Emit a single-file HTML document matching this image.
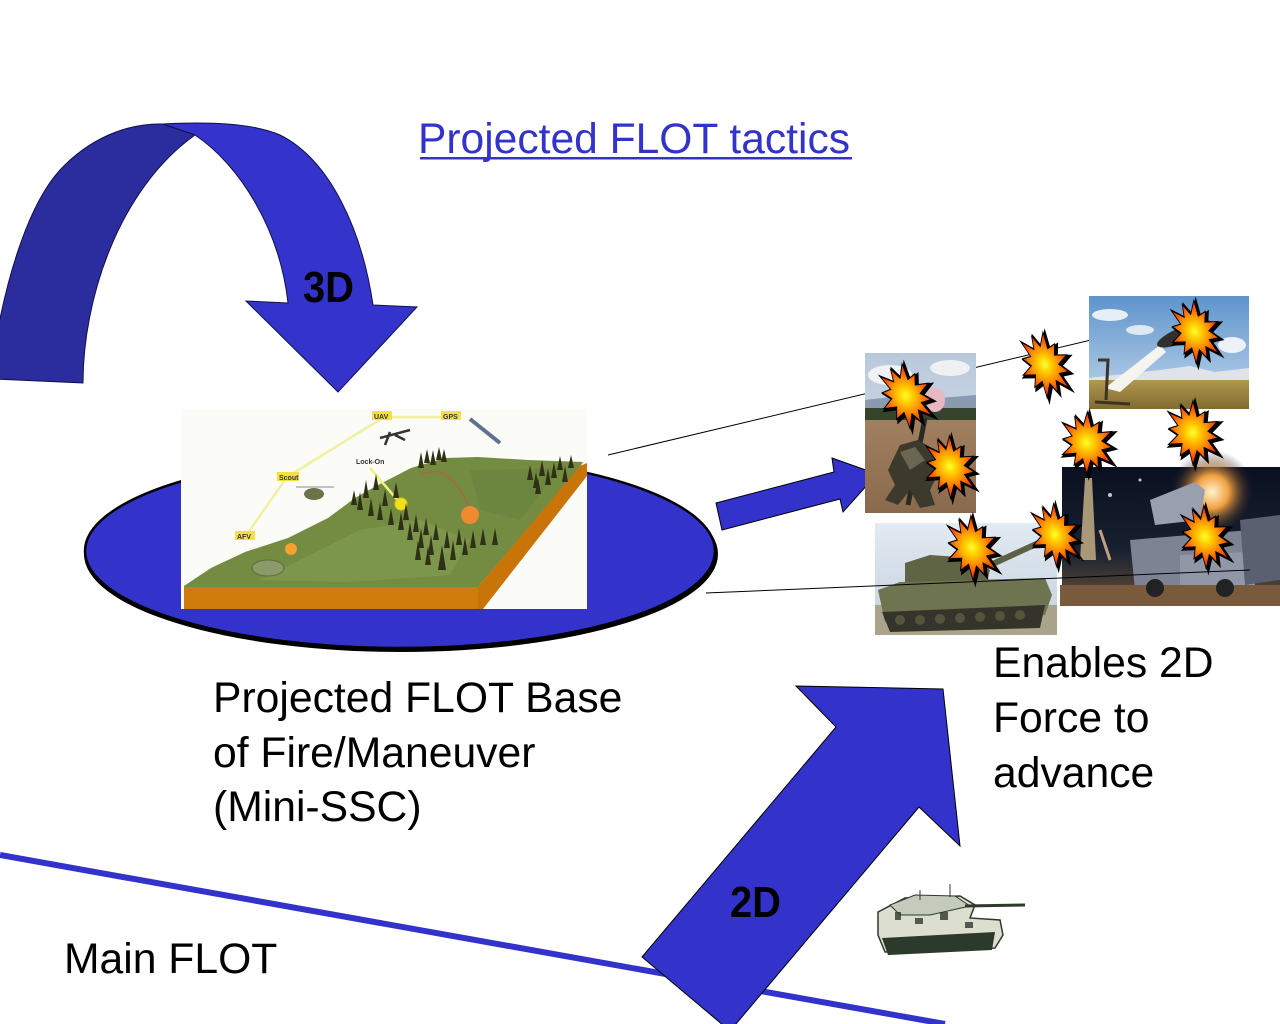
<!DOCTYPE html>
<html><head><meta charset="utf-8"><style>
html,body{margin:0;padding:0;background:#fff;}
svg{display:block;}
text{font-family:"Liberation Sans",Arial,sans-serif;}
</style></head><body>
<svg width="1280" height="1024" viewBox="0 0 1280 1024" xmlns="http://www.w3.org/2000/svg">
<defs>
<radialGradient id="boom" cx="0.5" cy="0.5" r="0.5">
<stop offset="0" stop-color="#ffff30"/><stop offset="0.25" stop-color="#ffd000"/>
<stop offset="0.6" stop-color="#ff8800"/><stop offset="1" stop-color="#ff2a00"/></radialGradient>
<radialGradient id="glow" cx="0.5" cy="0.5" r="0.5">
<stop offset="0" stop-color="#fff4d0"/><stop offset="0.4" stop-color="#f0a040"/><stop offset="1" stop-color="#1a1420" stop-opacity="0"/></radialGradient>
<linearGradient id="sky1" x1="0" y1="0" x2="0" y2="1"><stop offset="0" stop-color="#b8c8dc"/><stop offset="1" stop-color="#e2e6ea"/></linearGradient>
<linearGradient id="field1" x1="0" y1="0" x2="0" y2="1"><stop offset="0" stop-color="#a08060"/><stop offset="1" stop-color="#8a6a4c"/></linearGradient>
<linearGradient id="sky2" x1="0" y1="0" x2="0" y2="1"><stop offset="0" stop-color="#5e94cc"/><stop offset="1" stop-color="#c4d8ec"/></linearGradient>
<linearGradient id="field2" x1="0" y1="0" x2="0" y2="1"><stop offset="0" stop-color="#b09850"/><stop offset="1" stop-color="#806a30"/></linearGradient>
<linearGradient id="sky3" x1="0" y1="0" x2="0" y2="1"><stop offset="0" stop-color="#e2eaf2"/><stop offset="1" stop-color="#c4d0dc"/></linearGradient>
<linearGradient id="dark" x1="0" y1="0" x2="0" y2="1"><stop offset="0" stop-color="#0a1020"/><stop offset="0.6" stop-color="#182030"/><stop offset="1" stop-color="#6a5038"/></linearGradient>
<polygon id="star" points="30,0 15.9,4.3 23.4,13.5 11.7,11.7 15,26 4.3,15.9 0,25.5 -4.3,15.9 -15,26 -11.7,11.7 -23.4,13.5 -15.9,4.3 -30,0 -15.9,-4.3 -22.1,-12.8 -11.7,-11.7 -15,-26 -4.3,-15.9 0,-27 4.3,-15.9 15,-26 11.7,-11.7 22.1,-12.8 15.9,-4.3"/>
<g id="bm">
<use href="#star" fill="#000" stroke="#000" stroke-width="3" transform="translate(1.5,2)"/>
<use href="#star" fill="url(#boom)" stroke="#000" stroke-width="1"/>
</g>
</defs>

<!-- Title -->
<text x="418" y="153" font-size="42.67" fill="#3333cc" textLength="432" lengthAdjust="spacingAndGlyphs">Projected FLOT tactics</text>
<rect x="420" y="157" width="432" height="2.5" fill="#3333cc"/>

<!-- Curved 3D arrow -->
<path d="M -5,379 L 83,383 C 83,300 118,190 195,135 L 163,124 C 125,123 88,140 60,170 C 30,203 8,270 -5,345 Z" fill="#2b2c9e" stroke="#10104a" stroke-width="1"/>
<path d="M 163,124 C 200,122 250,122 280,135 C 330,160 362,230 373,305 L 417,307 L 338,392 L 246,301 L 288,303 C 280,230 240,165 195,135 Z" fill="#3434cc" stroke="#10104a" stroke-width="1"/>
<text x="303" y="302" font-size="44" font-weight="bold" fill="#000" textLength="51" lengthAdjust="spacingAndGlyphs">3D</text>

<!-- Ellipse base -->
<ellipse cx="401" cy="554" rx="317" ry="98" fill="#000"/>
<ellipse cx="400" cy="551" rx="315" ry="97" fill="#3333cc" stroke="#000" stroke-width="2.5"/>

<!-- Terrain picture -->
<rect x="181" y="409" width="406" height="200" fill="#fbfbf8"/>
<polygon points="184,586 211,568 245,552 288,538 328,518 355,498 378,485 411,468 445,458 478,457 528,460 583,462 580,467 478,587 184,587" fill="#738c42"/>
<polygon points="300,560 360,530 420,520 470,540 450,575 350,582 260,580" fill="#7e9a4e" opacity="0.8"/>
<polygon points="470,470 560,468 520,520 480,510" fill="#6a8440" opacity="0.8"/>
<polygon points="184,587 478,587 481,609 184,609" fill="#d07c0c"/>
<polygon points="478,587 580,466 587,463 587,476 483,609 478,609" fill="#c87408"/>
<polyline points="245,537 287,477 384,417 452,417" fill="none" stroke="#f0f0a0" stroke-width="2.5"/>
<line x1="370" y1="468" x2="400" y2="503" stroke="#f0f080" stroke-width="2.5"/>
<rect x="235" y="531" width="20" height="9" fill="#f4e040"/><text x="237" y="539" font-size="7" font-weight="bold" fill="#333">AFV</text>
<rect x="277" y="472" width="22" height="9" fill="#f4e040"/><text x="279" y="480" font-size="7" font-weight="bold" fill="#333">Scout</text>
<rect x="372" y="411" width="20" height="9" fill="#f4e040"/><text x="374" y="419" font-size="7" font-weight="bold" fill="#333">UAV</text>
<rect x="441" y="411" width="20" height="9" fill="#f4e040"/><text x="443" y="419" font-size="7" font-weight="bold" fill="#333">GPS</text>
<text x="356" y="464" font-size="7" font-weight="bold" fill="#333">Lock-On</text>
<circle cx="401" cy="504" r="6" fill="#f0e020" stroke="#e0d000"/>
<path d="M 420,475 Q 450,460 470,510" fill="none" stroke="#b86040" stroke-width="1.2"/>
<path d="M 380,438 L 410,430 M 390,432 L 385,445 M 395,435 L 405,440" stroke="#333" stroke-width="2.5"/>
<line x1="470" y1="419" x2="500" y2="443" stroke="#607090" stroke-width="4"/>
<ellipse cx="314" cy="494" rx="10" ry="6" fill="#6a7448"/>
<line x1="296" y1="487" x2="334" y2="487" stroke="#888" stroke-width="1"/>
<circle cx="470" cy="515" r="9" fill="#f08a30"/>
<circle cx="291" cy="549" r="6" fill="#f5a030"/>
<ellipse cx="268" cy="568" rx="16" ry="8" fill="#8a9a68" stroke="#5a6a40"/>
<g fill="#2f3016">
<polygon points="351,505 354,490 357,505"/><polygon points="357,510 360,492 363,510"/><polygon points="363,498 366,480 369,498"/><polygon points="368,516 371,498 374,516"/><polygon points="373,490 376,474 379,490"/><polygon points="377,520 380,502 383,520"/><polygon points="382,506 385,489 388,506"/><polygon points="388,525 391,508 394,525"/><polygon points="393,498 396,482 399,498"/><polygon points="398,530 401,512 404,530"/><polygon points="403,520 406,503 409,520"/><polygon points="407,540 410,522 413,540"/>
<polygon points="413,532 416,514 419,532"/><polygon points="418,548 421,528 424,548"/><polygon points="423,535 426,518 429,535"/><polygon points="428,555 431,535 434,555"/><polygon points="433,540 436,523 439,540"/><polygon points="438,570 442,545 446,570"/><polygon points="444,548 447,530 450,548"/><polygon points="450,560 453,540 456,560"/><polygon points="456,545 459,528 462,545"/><polygon points="462,555 465,537 468,555"/><polygon points="470,548 473,530 476,548"/><polygon points="480,545 483,528 486,545"/><polygon points="492,545 495,528 498,545"/><polygon points="415,560 418,540 421,560"/><polygon points="425,565 428,546 431,565"/>
<polygon points="418,468 421,452 424,468"/><polygon points="424,463 427,449 430,463"/><polygon points="430,465 433,450 436,465"/><polygon points="436,460 439,447 442,460"/><polygon points="441,462 444,449 447,462"/>
<polygon points="527,480 530,465 533,480"/><polygon points="533,488 536,472 539,488"/><polygon points="539,476 542,460 545,476"/><polygon points="545,485 548,468 551,485"/><polygon points="551,478 554,462 557,478"/><polygon points="557,470 560,456 563,470"/><polygon points="562,482 565,466 568,482"/><polygon points="568,468 571,455 574,468"/><polygon points="535,494 538,478 541,494"/>
</g>

<line x1="608" y1="455" x2="1175" y2="320" stroke="#000" stroke-width="1"/>

<polygon points="716,503 834,472 832,458 877,474 843,512 840,499 722,530" fill="#3333cc" stroke="#000" stroke-width="1"/>

<!-- Soldier photo -->
<g>
<rect x="865" y="353" width="111" height="160" fill="url(#sky1)"/>
<ellipse cx="890" cy="375" rx="22" ry="10" fill="#f0f2f4"/>
<ellipse cx="950" cy="368" rx="20" ry="8" fill="#eef0f2"/>
<polygon points="865,400 900,396 940,398 976,395 976,412 865,412" fill="#8a9ab0"/>
<rect x="865" y="408" width="111" height="12" fill="#36442e"/>
<rect x="865" y="420" width="111" height="93" fill="url(#field1)"/>
<ellipse cx="935" cy="400" rx="10" ry="12" fill="#e6b8c4"/>
<line x1="908" y1="505" x2="925" y2="418" stroke="#2a2a22" stroke-width="5"/>
<polygon points="888,470 900,445 918,440 935,450 940,470 930,490 935,505 920,508 910,490 898,505 885,500 895,485" fill="#3c3a2c"/>
<polygon points="900,452 915,447 925,460 910,470" fill="#6a6650"/>
</g>

<!-- Missile photo -->
<g>
<rect x="1089" y="296" width="160" height="113" fill="url(#sky2)"/>
<ellipse cx="1110" cy="315" rx="18" ry="6" fill="#e8eef6"/>
<ellipse cx="1232" cy="345" rx="14" ry="8" fill="#eef2f8"/>
<ellipse cx="1140" cy="330" rx="14" ry="5" fill="#dfe8f2"/>
<polygon points="1089,378 1160,370 1190,366 1215,372 1249,368 1249,382 1089,384" fill="#e0e4ea"/>
<rect x="1089" y="380" width="160" height="29" fill="url(#field2)"/>
<polygon points="1105,388 1160,345 1166,352 1120,392" fill="#f6f4ee"/>
<ellipse cx="1185" cy="334" rx="30" ry="8" fill="#303030" transform="rotate(-22 1185 334)"/>
<path d="M 1098,360 L 1108,360 L 1106,400 M 1095,402 L 1130,404" stroke="#3a3428" stroke-width="3" fill="none"/>
</g>

<!-- Dark launcher photo -->
<g>
<rect x="1062" y="467" width="218" height="139" fill="url(#dark)"/>
<circle cx="1212" cy="492" r="42" fill="url(#glow)"/>
<polygon points="1080,560 1085,478 1092,478 1096,560" fill="#a89878"/>
<polygon points="1150,500 1195,482 1205,490 1200,520 1155,525" fill="#98a0b0"/>
<polygon points="1130,540 1250,530 1255,585 1135,590" fill="#7c8494"/>
<polygon points="1180,555 1250,552 1255,585 1180,588" fill="#9098a8"/>
<rect x="1060" y="585" width="220" height="21" fill="#7a5a3c"/>
<circle cx="1155" cy="588" r="9" fill="#222"/><circle cx="1225" cy="588" r="9" fill="#222"/>
<polygon points="1240,520 1280,515 1280,580 1245,585" fill="#5a6070"/>
<line x1="1100" y1="530" x2="1110" y2="560" stroke="#c0a080" stroke-width="3"/>
<circle cx="1110" cy="495" r="2" fill="#c0c8d8"/><circle cx="1140" cy="480" r="1.5" fill="#c0c8d8"/>
</g>

<!-- Tank photo -->
<g>
<rect x="875" y="523" width="182" height="112" fill="url(#sky3)"/>
<rect x="875" y="605" width="182" height="30" fill="#aaa48c"/>
<line x1="975" y1="572" x2="1045" y2="540" stroke="#5c6044" stroke-width="6"/>
<polygon points="905,563 930,555 975,558 990,570 985,590 905,592" fill="#5e6444"/>
<polygon points="878,590 900,582 1045,578 1052,595 1045,615 885,622" fill="#6e7450"/>
<polygon points="882,612 1045,605 1040,628 890,632" fill="#34342a"/>
<g fill="#55553e"><circle cx="900" cy="620" r="5"/><circle cx="920" cy="620" r="5"/><circle cx="940" cy="619" r="5"/><circle cx="960" cy="618" r="5"/><circle cx="980" cy="617" r="5"/><circle cx="1000" cy="616" r="5"/><circle cx="1020" cy="615" r="5"/></g>
</g>

<line x1="706" y1="593" x2="1250" y2="570" stroke="#000" stroke-width="1"/>

<!-- Explosions -->
<use href="#bm" transform="translate(906,396) rotate(-30) scale(0.85,1.15)"/>
<use href="#bm" transform="translate(950,467) rotate(-25) scale(0.85,1.1)"/>
<use href="#bm" transform="translate(1045,365) rotate(-25) scale(0.8,1.18)"/>
<use href="#bm" transform="translate(1195,332) rotate(-25) scale(0.82,1.12)"/>
<use href="#bm" transform="translate(1087,443) rotate(-25) scale(0.9,1.08)"/>
<use href="#bm" transform="translate(1193,433) rotate(-25) scale(0.9,1.12)"/>
<use href="#bm" transform="translate(972,548) rotate(-25) scale(0.85,1.15)"/>
<use href="#bm" transform="translate(1055,535) rotate(-25) scale(0.8,1.12)"/>
<use href="#bm" transform="translate(1205,537) rotate(-25) scale(0.82,1.12)"/>

<!-- Main FLOT line -->
<line x1="0" y1="855" x2="945" y2="1024" stroke="#3333cc" stroke-width="6"/>

<!-- 2D arrow -->
<polygon points="796,686 943,689 960,846 919,807 730,1031 642,957 836,727" fill="#3333cc" stroke="#000" stroke-width="1"/>
<text x="730" y="917" font-size="44" font-weight="bold" fill="#000" textLength="51" lengthAdjust="spacingAndGlyphs">2D</text>

<!-- small tank sketch -->
<g>
<polygon points="878,912 905,898 960,896 975,905 970,918 1000,920 1003,935 995,948 885,952 878,935" fill="#dcdfd0" stroke="#2c3a2c" stroke-width="1.5"/>
<polygon points="890,905 915,895 955,896 970,906 930,915 900,915" fill="#c4cabc" stroke="#2c3a2c" stroke-width="1"/>
<line x1="965" y1="906" x2="1025" y2="905" stroke="#2c3a2c" stroke-width="3"/>
<line x1="920" y1="890" x2="920" y2="900" stroke="#2c3a2c" stroke-width="1"/>
<line x1="950" y1="884" x2="950" y2="897" stroke="#2c3a2c" stroke-width="1"/>
<path d="M 882,938 L 995,932 L 992,950 L 888,955 Z" fill="#2c3a2c"/>
<g fill="#2c3a2c" opacity="0.8"><rect x="895" y="912" width="6" height="8"/><rect x="915" y="918" width="8" height="6"/><rect x="940" y="912" width="8" height="8"/><rect x="965" y="922" width="8" height="6"/></g>
</g>

<!-- Text labels -->
<text x="213" y="712" font-size="42.67" fill="#000">Projected FLOT Base</text>
<text x="213" y="767" font-size="42.67" fill="#000">of Fire/Maneuver</text>
<text x="213" y="821" font-size="42.67" fill="#000">(Mini-SSC)</text>
<text x="993" y="677" font-size="42.67" fill="#000">Enables 2D</text>
<text x="993" y="732" font-size="42.67" fill="#000">Force to</text>
<text x="993" y="787" font-size="42.67" fill="#000">advance</text>
<text x="64" y="973" font-size="42.67" fill="#000">Main FLOT</text>
</svg>
</body></html>
